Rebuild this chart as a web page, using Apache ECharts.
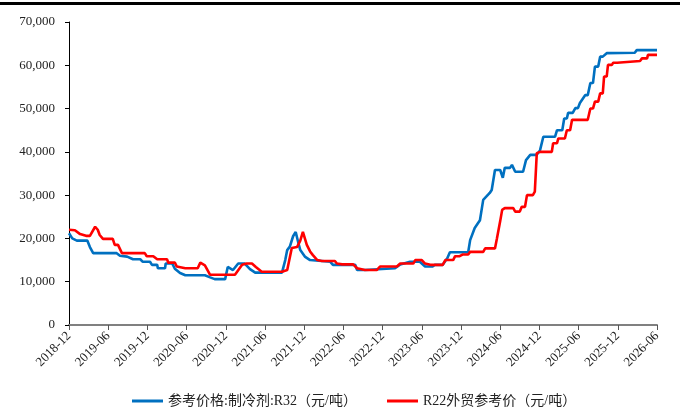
<!DOCTYPE html>
<html>
<head>
<meta charset="utf-8">
<script src="https://cdn.jsdelivr.net/npm/echarts@6/dist/echarts.min.js"></script>
<style>
    html, body { margin: 0; padding: 0; background: #fff; }
    #chart { width: 680px; height: 417px; }
</style>
</head>
<body>
<div id="chart"></div>
<script>
// x values are months counted from 2018-12
var r32Months = [0, 0.5, 1.2, 2.8, 3.2, 3.7, 7.3, 7.8, 8.9, 9.8, 10.9, 11.3, 12.4, 12.7, 13.5, 13.6, 14.7, 14.8, 15.8, 16.2, 17.0,
    17.8, 20.8, 21.6, 22.3, 23.9, 24.3, 25.1, 25.9, 26.9, 27.7, 28.5, 32.6, 33.1, 33.4, 33.8, 34.3, 34.7, 35.1, 35.4, 36.1, 36.9,
    37.2, 40.0, 40.4, 43.8, 44.1, 45.3, 45.6, 49.9, 50.7, 52.2, 53.7, 54.5, 55.6, 56.0, 57.2, 57.9, 58.3, 61.1, 61.4, 62.1, 62.9,
    63.4, 64.4, 64.7, 65.2, 66.0, 66.3, 66.4, 66.7, 67.5, 67.8, 68.3, 69.5, 69.95, 70.6, 71.6, 72.1, 72.6, 74.4, 74.7, 75.5, 75.8,
    76.2, 76.4, 77.1, 77.5, 77.9, 78.2, 79.0, 79.4, 79.8, 80.2, 80.5, 81.0, 81.3, 81.7, 82.3, 86.6, 86.9, 90];
var r32Values = [21200, 20000, 19500, 19500, 18000, 16600, 16600, 16000, 15800, 15200, 15200, 14600, 14600, 13900, 13900, 13100, 13100, 14200, 14200, 13000, 12000,
    11500, 11500, 11000, 10600, 10600, 13400, 12700, 14200, 14200, 12900, 12100, 12100, 15000, 17300, 18100, 20500, 21500, 19000, 17300, 15800, 15000,
    14600, 14600, 13900, 13900, 12700, 12700, 13100, 13100, 14000, 14600, 14600, 13500, 13500, 13900, 13900, 15400, 16800, 16800, 19600, 22400, 24200,
    28900, 30500, 31200, 35800, 35800, 36000, 34000, 36300, 36300, 37000, 35400, 35400, 38100, 39300, 39300, 40400, 43500, 43500, 45000, 45000, 47700,
    47700, 49000, 49000, 50100, 50100, 51300, 53100, 53100, 55900, 55900, 59700, 59700, 62000, 62000, 62800, 62900, 63500, 63500];

var r22Months = [0, 0.9, 1.7, 2.6, 3.2, 4.0, 4.4, 4.7, 5.2, 6.7, 7.0, 7.5, 8.1, 11.6, 11.9, 12.9, 13.5, 15.0, 15.2, 16.2, 16.5,
    17.8, 19.7, 20.1, 20.8, 21.6, 25.4, 26.5, 27.2, 28.0, 28.6, 29.5, 32.6, 33.4, 34.1, 34.9, 35.4, 35.8, 36.4, 36.9, 37.3, 38.0,
    38.7, 40.7, 41.0, 41.8, 43.5, 44.1, 45.3, 47.1, 47.6, 50.2, 50.7, 52.7, 53.0, 54.0, 54.5, 55.3, 57.2, 57.6, 58.8, 59.1, 59.8,
    60.3, 61.1, 61.4, 63.4, 63.7, 65.2, 65.5, 66.0, 66.3, 66.7, 68.0, 68.3, 69.0, 69.3, 69.8, 70.1, 71.0, 71.3, 71.6, 72.1, 73.9,
    74.1, 74.7, 74.9, 75.9, 76.2, 76.7, 77.0, 79.4, 79.8, 80.2, 80.5, 81.0, 81.3, 81.7, 81.9, 82.3, 82.5, 83.1, 83.3, 83.9, 84.0,
    87.4, 87.7, 88.5, 88.6, 90];
var r22Values = [22000, 21900, 21000, 20600, 20600, 22700, 22000, 20800, 19900, 19900, 18500, 18500, 16600, 16600, 15900, 15900, 15200, 15200, 14400, 14400, 13500,
    13100, 13100, 14400, 13800, 11600, 11600, 13900, 14200, 14200, 13400, 12300, 12300, 12700, 17800, 18000, 19500, 21500, 18500, 17000, 16200, 15000,
    14800, 14800, 14200, 14000, 14000, 13100, 12700, 12700, 13500, 13500, 14200, 14200, 15000, 15000, 14200, 13900, 13900, 15000, 15000, 15900, 15900,
    16300, 16300, 16900, 16900, 17700, 17700, 20000, 24000, 26600, 27000, 27000, 26200, 26200, 27300, 27300, 30000, 30000, 30800, 39700, 40000, 40000,
    42000, 42000, 43100, 43100, 45000, 45000, 47400, 47400, 50000, 50000, 51600, 51600, 53500, 53500, 57400, 57400, 60100, 60100, 60600, 60600, 61000,
    61000, 61600, 61600, 62400, 62400];

var seriesNames = ['参考价格:制冷剂:R32（元/吨）', 'R22外贸参考价（元/吨）'];

function zip(xs, ys) {
    var out = [];
    for (var i = 0; i < xs.length; i++) {
        out.push([xs[i], ys[i]]);
    }
    return out;
}

function monthLabel(m) {
    var total = 2018 * 12 + 11 + Math.round(m);
    var y = Math.floor(total / 12);
    var mm = total % 12 + 1;
    return y + '-' + (mm < 10 ? '0' + mm : mm);
}

function formatBigNumber(num) {
    return String(num).replace(/\B(?=(\d{3})+(?!\d))/g, ',');
}

var serif = '"Liberation Serif", "Times New Roman", "Noto Sans CJK SC", serif';

var myChart = echarts.init(document.getElementById('chart'));
var option = {
    animation: false,
    graphic: [{
        type: 'rect',
        left: 0,
        top: 2,
        shape: { width: 680, height: 3 },
        style: { fill: '#000' }
    }],
    grid: {
        left: 69,
        right: 23,
        top: 22,
        bottom: 92
    },
    legend: {
        left: 127,
        top: 389,
        itemGap: 30,
        itemWidth: 31,
        itemHeight: 3,
        icon: 'rect',
        textStyle: {
            color: '#222',
            fontSize: 14,
            fontFamily: serif
        },
        data: seriesNames
    },
    xAxis: {
        type: 'value',
        min: 0,
        max: 90,
        interval: 6,
        splitLine: { show: false },
        axisLine: {
            lineStyle: { color: '#808080', width: 2 }
        },
        axisTick: {
            length: 5,
            lineStyle: { color: '#555', width: 1 }
        },
        axisLabel: {
            rotate: 45,
            margin: 9,
            color: '#222',
            fontSize: 13,
            fontFamily: serif,
            formatter: monthLabel
        }
    },
    yAxis: {
        type: 'value',
        min: 0,
        max: 70000,
        interval: 10000,
        splitLine: { show: false },
        axisLine: {
            show: true,
            lineStyle: { color: '#000', width: 1 }
        },
        axisTick: {
            show: true,
            length: 4,
            lineStyle: { color: '#000' }
        },
        axisLabel: {
            margin: 14,
            color: '#222',
            fontSize: 13,
            fontFamily: serif,
            formatter: formatBigNumber
        }
    },
    series: [
        {
            name: seriesNames[0],
            type: 'line',
            showSymbol: false,
            lineStyle: { color: '#0070C0', width: 2.6 },
            itemStyle: { color: '#0070C0' },
            data: zip(r32Months, r32Values)
        },
        {
            name: seriesNames[1],
            type: 'line',
            showSymbol: false,
            lineStyle: { color: '#FF0000', width: 2.6 },
            itemStyle: { color: '#FF0000' },
            data: zip(r22Months, r22Values)
        }
    ]
};
myChart.setOption(option);
</script>
</body>
</html>
